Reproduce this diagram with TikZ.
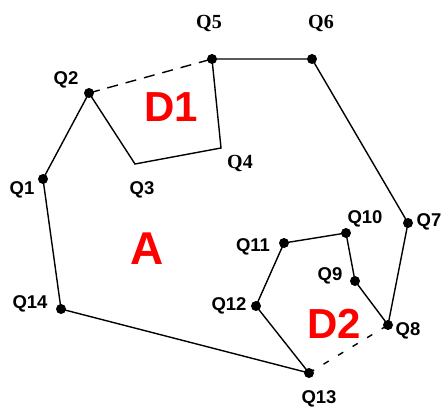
\documentclass[tikz,border=0pt]{standalone}
\usepackage{fontspec}
\setmainfont{Liberation Sans}
\newfontfamily\serifb{Liberation Serif}
\begin{document}
\begin{tikzpicture}[x=1pt,y=-1pt,
  pt/.style={circle,fill=black,inner sep=0pt,minimum size=10pt},
  lbl/.style={font=\fontsize{18.5}{18.5}\selectfont\bfseries,inner sep=0pt},
  slbl/.style={font=\fontsize{20}{20}\selectfont\serifb\bfseries,inner sep=0pt},
  big/.style={text=red,font=\fontsize{42}{42}\selectfont\bfseries,inner sep=0pt},
  edge/.style={line width=1.4pt},
  dash1/.style={line width=1.4pt,dash pattern=on 11pt off 8pt},
  dash2/.style={line width=1.4pt,dash pattern=on 6pt off 11pt}]
\useasboundingbox (0,0) rectangle (442,409);
\node[pt] (q1) at (43,179) {};
\node[pt] (q2) at (89,93) {};
\coordinate (q3) at (135,164);
\coordinate (q4) at (221,148);
\node[pt] (q5) at (212,59) {};
\node[pt] (q6) at (312,59) {};
\node[pt] (q7) at (408,223) {};
\node[pt] (q8) at (388,325) {};
\node[pt] (q9) at (355,281) {};
\node[pt] (q10) at (346,233) {};
\node[pt] (q11) at (284,243) {};
\node[pt] (q12) at (256,306) {};
\node[pt] (q13) at (309,373) {};
\node[pt] (q14) at (61,309) {};
\draw[edge] (q1.center) -- (q2.center) -- (q3) -- (q4) -- (q5.center) -- (q6.center) -- (q7.center) -- (q8.center) -- (q9.center) -- (q10.center) -- (q11.center) -- (q12.center) -- (q13.center) -- (q14.center) -- (q1.center);
\draw[dash1] (q2.center) -- (q5.center);
\draw[dash2] (q13.center) -- (q8.center);
\node[lbl] (l1) at (22,190) {Q1};
\node[lbl] (l2) at (66,80) {Q2};
\node[lbl] (l3) at (142,190) {Q3};
\node[slbl] (l4) at (240,163) {Q4};
\node[slbl] (l5) at (209,24) {Q5};
\node[slbl] (l6) at (321,24) {Q6};
\node[lbl] (l7) at (429,222) {Q7};
\node[lbl] (l8) at (408,331) {Q8};
\node[lbl] (l9) at (330,276) {Q9};
\node[lbl] (l10) at (365,219) {Q10};
\node[lbl] (l11) at (253,247) {Q11};
\node[lbl] (l12) at (229,306) {Q12};
\node[lbl] (l13) at (319,399) {Q13};
\node[lbl] (l14) at (30,304) {Q14};
\node[big] (d1) at (171,107) {D1};
\node[big,font=\fontsize{46}{46}\selectfont\bfseries] (a) at (147,249) {A};
\node[big] (d2) at (334,324) {D2};
\end{tikzpicture}
\end{document}
